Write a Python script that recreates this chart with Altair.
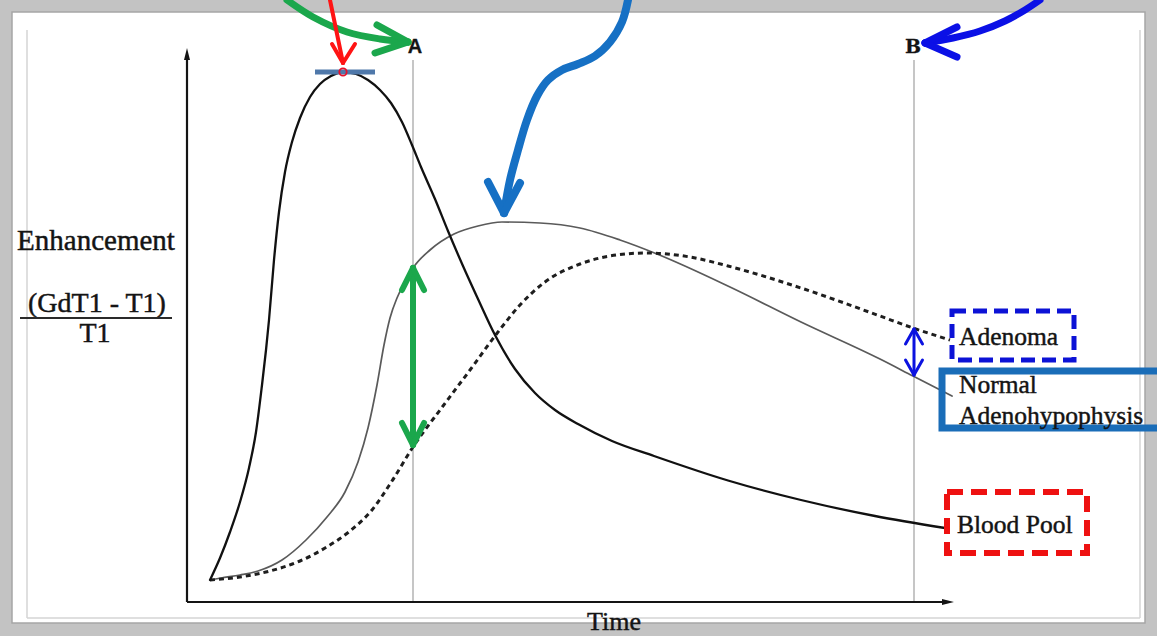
import altair as alt
import pandas as pd

# ---------------------------------------------------------------------------
# Dynamic enhancement curves: time (t) against enhancement (GdT1 - T1)/T1 (e)
# ---------------------------------------------------------------------------
blood_t = [4.6, 6.6, 8.6, 10.6, 12.4, 13.8, 15.0, 15.8, 16.4, 17.4, 18.4, 19.6, 21.0, 22.6,
           24.6, 26.6, 28.8, 31.2, 33.8, 36.2, 38.6, 40.8, 43.0, 45.0, 46.8, 49.6, 52.2, 55.2,
           58.2, 61.6, 65.6, 69.6, 73.6, 78.2, 85.0, 93.4, 108.2, 122.8, 137.6, 151.6]
blood_e = [4.4, 8.8, 14.0, 20.0, 26.8, 34.0, 43.4, 50.4, 56.4, 68.4, 78.0, 86.0, 92.0, 96.8,
           101.0, 103.6, 105.2, 106.0, 105.6, 104.4, 102.4, 99.8, 96.0, 91.4, 87.0, 80.6, 74.2, 67.2,
           60.6, 53.4, 46.6, 41.8, 38.4, 35.6, 32.2, 29.2, 24.3, 20.4, 17.2, 14.8]

normal_t = [4.6, 6.8, 10.6, 14.2, 19.0, 23.8, 28.0, 31.6, 34.2, 36.2, 38.0, 39.4, 40.6, 42.0,
            43.6, 45.2, 48.6, 53.4, 58.2, 63.0, 70.6, 78.6, 86.6, 94.0, 108.6, 122.8, 138.6, 145.2,
            153.0]
normal_e = [4.4, 4.8, 5.4, 6.2, 8.4, 12.4, 17.0, 22.0, 28.0, 34.8, 43.4, 51.4, 56.8, 60.8,
            64.0, 66.8, 70.4, 73.6, 75.2, 76.0, 75.8, 74.8, 72.4, 69.6, 63.0, 56.0, 48.6, 45.2,
            41.2]

adenoma_t = [4.6, 10.6, 16.6, 22.6, 27.6, 32.6, 37.0, 41.0, 45.2, 51.2, 56.6, 62.2, 66.6, 71.6,
             78.6, 84.6, 91.8, 100.6, 108.2, 122.8, 138.6, 145.2, 152.6]
adenoma_e = [4.4, 5.0, 6.2, 8.2, 10.8, 14.2, 18.4, 24.2, 31.0, 39.2, 46.4, 54.0, 59.4, 64.0,
             67.6, 69.2, 69.8, 69.0, 67.2, 62.8, 57.2, 54.8, 52.4]

# reference times, peak of the blood pool curve
time_a = 45.2
time_b = 145.4
ref_top = 108.4
peak_t = 31.2
peak_e = 106.0
peak_bar = [25.6, 37.6]

# axes (drawn as arrows from the origin)
t_axis_end = 152.2
e_axis_end = 109.6

# visible domain of both scales
t_domain = [-35.0, 191.6]
e_domain = [-4.2, 118.0]

# thin inner border of the figure
border_left, border_right, border_bottom, border_top = -32.0, 190.6, -3.2, 114.4

# axis title and fraction
title_text = ["Enhancement", "(GdT1 - T1)", "T1"]
title_t = [-18.2, -18.0, -18.4]
title_e = [70.4, 58.0, 52.0]
title_size = [29, 28, 28]
fraction_t = [-33.4, -3.0]
fraction_e = 56.8

# curve labels and their boxes
label_text = ["Adenoma", "Normal", "Adenohypophysis", "Blood Pool"]
label_t = [154.4, 154.4, 154.4, 154.0]
label_e = [51.4, 41.8, 35.6, 13.8]
box_t = [153.0, 151.0, 152.0]
box_t2 = [177.4, 196.0, 180.0]
box_e = [48.4, 34.8, 9.8]
box_e2 = [58.2, 46.2, 22.0]

# annotation arrows
green_curve_t = [20.0, 25.2, 32.0, 38.6, 44.2]
green_curve_e = [120.4, 117.0, 114.0, 112.6, 112.0]
green_head_t2 = [38.0, 37.6]
green_head_e2 = [115.4, 109.8]

red_line = [28.6, 120.4, 31.2, 107.8]
red_head_t2 = [29.0, 33.6]
red_head_e2 = [111.6, 111.6]

wave_t = [88.2, 87.0, 84.6, 81.6, 78.2, 75.0, 72.2, 70.0, 68.0, 66.2, 64.6, 63.4]
wave_e = [120.4, 116.0, 112.0, 109.2, 107.6, 106.4, 104.4, 101.2, 96.4, 90.4, 84.4, 77.8]
wave_head_t2 = [60.2, 66.6]
wave_head_e2 = [84.0, 83.8]

b_curve_t = [170.6, 167.6, 163.6, 158.6, 153.2, 147.6]
b_curve_e = [120.4, 118.4, 116.2, 114.2, 112.8, 111.8]
b_head_t2 = [154.0, 154.0]
b_head_e2 = [115.0, 109.0]

# double arrows between curves at A and at B
gap_a = [66.8, 31.4]
gap_b = [54.6, 45.4]

# ---------------------------------------------------------------------------
X = alt.X("t:Q", scale=alt.Scale(domain=t_domain, nice=False, zero=False), axis=None)
Y = alt.Y("e:Q", scale=alt.Scale(domain=e_domain, nice=False, zero=False), axis=None)


def segments(t, e, t2, e2):
    return pd.DataFrame({"t": t, "e": e, "t2": t2, "e2": e2})


def rules(df, color, width, cap="butt", dash=None):
    kw = dict(color=color, strokeWidth=width, strokeCap=cap)
    if dash:
        kw["strokeDash"] = dash
    return alt.Chart(df).mark_rule(**kw).encode(x=X, y=Y, x2="t2:Q", y2="e2:Q")


def head(tip_t, tip_e, ends_t, ends_e, color, width):
    df = segments([tip_t] * len(ends_t), [tip_e] * len(ends_e), ends_t, ends_e)
    return rules(df, color, width, cap="round")


def double_head(t, top, bottom, dx, dy, color, width):
    df = segments([t] * 5, [top, top, top, bottom, bottom],
                  [t, t - dx, t + dx, t - dx, t + dx],
                  [bottom, top - dy, top - dy, bottom + dy, bottom + dy])
    return rules(df, color, width, cap="round")


def curve(t, e, color, width, interp="catmull-rom", dash=None, ordered=True):
    df = pd.DataFrame({"t": t, "e": e, "i": list(range(len(t)))})
    kw = dict(color=color, strokeWidth=width, interpolate=interp,
              strokeCap="round", strokeJoin="round")
    if dash:
        kw["strokeDash"] = dash
        kw["strokeCap"] = "butt"
    enc = dict(x=X, y=Y)
    if ordered:
        enc["order"] = alt.Order("i:Q")
    return alt.Chart(df).mark_line(**kw).encode(**enc)


def texts(t, e, labels, font, size, align="center", weight="normal", halo=0.45):
    df = pd.DataFrame({"t": t, "e": e, "label": labels})
    return alt.Chart(df).mark_text(font=font, fontSize=size, align=align,
                                   baseline="alphabetic", fontWeight=weight,
                                   color="#141414", stroke="#141414",
                                   strokeWidth=halo).encode(x=X, y=Y, text="label:N")


layers = []

# figure border
layers.append(rules(segments([border_left, border_right, border_left],
                             [border_bottom] * 3,
                             [border_left, border_right, border_right],
                             [border_top, border_top, border_bottom]),
                    "#d4d4d4", 1.5))

# reference time lines A and B
layers.append(rules(segments([time_a, time_b], [0, 0], [time_a, time_b], [ref_top, ref_top]),
                    "#a8a8a8", 1.3))

# axes
layers.append(rules(segments([0, 0], [0, 0], [0, t_axis_end - 1], [e_axis_end - 1, 0]),
                    "#141414", 2.2))
layers.append(alt.Chart(pd.DataFrame({"t": [0], "e": [e_axis_end]}))
              .mark_point(shape="M0,-1L0.5,1L-0.5,1Z", filled=True, size=144,
                          color="#141414", opacity=1).encode(x=X, y=Y))
layers.append(alt.Chart(pd.DataFrame({"t": [t_axis_end], "e": [0]}))
              .mark_point(shape="M1,0L-1,0.5L-1,-0.5Z", filled=True, size=144,
                          color="#141414", opacity=1).encode(x=X, y=Y))

# curves
layers.append(curve(normal_t, normal_e, "#5a5a5a", 1.7, interp="monotone", ordered=False))
layers.append(curve(adenoma_t, adenoma_e, "#1e1e1e", 3.0, interp="monotone",
                    dash=[5, 4], ordered=False))
layers.append(curve(blood_t, blood_e, "#111111", 2.3, interp="monotone", ordered=False))

# peak marker
layers.append(rules(segments([peak_bar[0]], [peak_e], [peak_bar[1]], [peak_e]), "#4f78aa", 5))
layers.append(alt.Chart(pd.DataFrame({"t": [peak_t], "e": [peak_e]}))
              .mark_point(shape="circle", size=55, filled=False, color="#e8102a",
                          strokeWidth=1.8, opacity=1).encode(x=X, y=Y))

# label boxes
box_style = [("#0c12d6", 5, [14, 7]), ("#1a6db8", 7, None), ("#ee1111", 6, [16, 8])]
for k, (col, w, dash) in enumerate(box_style):
    kw = dict(fillOpacity=0, stroke=col, strokeWidth=w)
    if dash:
        kw["strokeDash"] = dash
    layers.append(alt.Chart(pd.DataFrame({"t": [box_t[k]], "t2": [box_t2[k]],
                                          "e": [box_e[k]], "e2": [box_e2[k]]}))
                  .mark_rect(**kw).encode(x=X, y=Y, x2="t2:Q", y2="e2:Q"))

# texts
for k in range(3):
    layers.append(texts([title_t[k]], [title_e[k]], [title_text[k]], "Liberation Serif",
                        title_size[k]))
layers.append(rules(segments([fraction_t[0]], [fraction_e], [fraction_t[1]], [fraction_e]),
                    "#2a2a2a", 1.8))
layers.append(texts([85.4], [-5.5], ["Time"], "Liberation Serif", 26))
layers.append(texts(label_t, label_e, label_text, "Liberation Serif", 25.5, align="left"))
layers.append(texts([45.6], [109.8], ["A"], "Liberation Sans", 20, weight="bold", halo=0.3))
layers.append(texts([145.2], [109.8], ["B"], "DejaVu Serif", 19, weight="bold", halo=0.3))

# double arrows
layers.append(double_head(time_a, gap_a[0], gap_a[1], 2.2, 4.4, "#1ba74c", 6))
layers.append(double_head(time_b, gap_b[0], gap_b[1], 1.7, 3.0, "#0c12e0", 3))

# pointer arrows
layers.append(curve(green_curve_t, green_curve_e, "#1ba74c", 7))
layers.append(head(green_curve_t[-1], green_curve_e[-1], green_head_t2, green_head_e2,
                   "#1ba74c", 7))
layers.append(rules(segments([red_line[0]], [red_line[1]], [red_line[2]], [red_line[3]]),
                    "#ff1414", 4, cap="round"))
layers.append(head(red_line[2], red_line[3], red_head_t2, red_head_e2, "#ff1414", 4))
layers.append(curve(wave_t, wave_e, "#1670c4", 8))
layers.append(head(wave_t[-1], wave_e[-1], wave_head_t2, wave_head_e2, "#1670c4", 8))
layers.append(curve(b_curve_t, b_curve_e, "#0b10e6", 7))
layers.append(head(b_curve_t[-1], b_curve_e[-1], b_head_t2, b_head_e2, "#0b10e6", 7))

chart = (
    alt.layer(*layers)
    .properties(width=1133, height=611,
                padding={"left": 12, "top": 12, "right": 12, "bottom": 13},
                autosize=alt.AutoSizeParams(type="none"))
    .configure(background="#c3c3c3")
    .configure_view(fill="white", stroke="#a6a6a6", strokeWidth=1.5)
)

chart.save("out.html", embed_options={"renderer": "svg", "actions": False})
